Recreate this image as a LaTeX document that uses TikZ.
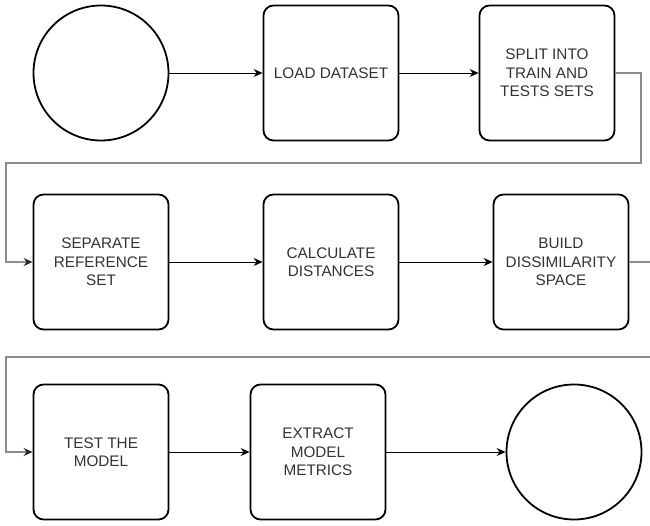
\documentclass[tikz,border=0pt]{standalone}
\usepackage{fontspec}
\setmainfont{Liberation Sans}
\usetikzlibrary{arrows.meta}
\definecolor{txt}{HTML}{333333}
\definecolor{conn}{HTML}{8C8C8C}
\begin{document}
\begin{tikzpicture}[x=1pt,y=-1pt,
  stepbox/.style={draw=black,line width=1.8pt,rounded corners=10pt,minimum width=135pt,minimum height=135pt,align=center,text=txt,font=\fontsize{15.3}{18.4}\selectfont,inner sep=2pt,fill=white},
  endcirc/.style={draw=black,line width=1.8pt,circle,minimum size=135pt,inner sep=0pt},
  arr/.style={draw=black,line width=0.9pt,-{Stealth[length=9pt,width=8pt,inset=3pt]}},
  garr/.style={draw=conn,line width=1.3pt,-{Stealth[length=9pt,width=8pt,inset=3pt,color=black!85]}}]
\useasboundingbox (0,0) rectangle (650,525);
\clip (0,0) rectangle (650,525);
\node[endcirc] (c1) at (101,73) {};
\node[stepbox] (b1) at (331,73) {LOAD DATASET};
\node[stepbox] (b2) at (547,73) {SPLIT INTO\\TRAIN AND\\TESTS SETS};
\node[stepbox] (b3) at (101,262) {SEPARATE\\REFERENCE\\SET};
\node[stepbox] (b4) at (331,262) {CALCULATE\\DISTANCES};
\node[stepbox] (b5) at (561,262) {BUILD\\DISSIMILARITY\\SPACE};
\node[stepbox] (b6) at (101,452) {TEST THE\\MODEL};
\node[stepbox] (b7) at (318,452) {EXTRACT\\MODEL\\METRICS};
\node[endcirc] (c2) at (574,452) {};
\coordinate (r1) at (641,163);
\coordinate (l1) at (6,163);
\coordinate (r2) at (665,357);
\coordinate (l2) at (6,357);
\draw[arr] (c1) -- (b1);
\draw[arr] (b1) -- (b2);
\draw[garr] (b2.east) -| (r1) -- (l1) |- (b3.west);
\draw[arr] (b3) -- (b4);
\draw[arr] (b4) -- (b5);
\draw[garr] (b5.east) -| (r2) -- (l2) |- (b6.west);
\draw[arr] (b6) -- (b7);
\draw[arr] (b7) -- (c2);
\end{tikzpicture}
\end{document}
